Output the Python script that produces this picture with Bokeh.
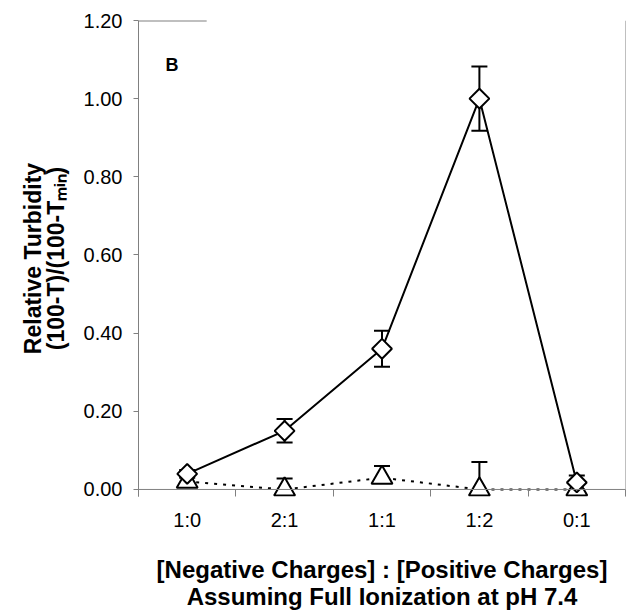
import numpy as np
from bokeh.plotting import figure
from bokeh.models import (ColumnDataSource, Range1d, FixedTicker, NumeralTickFormatter,
                          Whisker, TeeHead, Label, Span)
from bokeh.embed import file_html
from bokeh.resources import INLINE

# ---- data ----
categories = ["1:0", "2:1", "1:1", "1:2", "0:1"]
diamond_values = [0.04, 0.15, 0.36, 1.00, 0.018]
diamond_errors = [0.01, 0.03, 0.046, 0.082, 0.018]
triangle_values = [0.02, 0.00, 0.03, 0.00, 0.00]
triangle_errors = [0.0, 0.028, 0.03, 0.07, 0.0]
y_ticks = [0.0, 0.2, 0.4, 0.6, 0.8, 1.0, 1.2]

FONT = "Liberation Sans"
AXIS_GRAY = "#808080"

n = len(categories)
xs = [i + 0.5 for i in range(n)]

p = figure(width=630, height=614, output_backend="svg", toolbar_location=None,
           x_range=Range1d(0, n), y_range=Range1d(-0.018, 1.2),
           min_border_left=138, min_border_right=5, min_border_top=20,
           min_border_bottom=118, outline_line_color=None,
           background_fill_color="white", border_fill_color="white")
p.grid.visible = False

# x axis (line drawn at y = 0 by a span, ticks reach up to it)
xa = p.xaxis[0]
xa.ticker = FixedTicker(ticks=xs, minor_ticks=list(range(0, n + 1)))
xa.major_label_overrides = {x: c for x, c in zip(xs, categories)}
xa.major_tick_out = 0
xa.major_tick_in = 0
xa.minor_tick_out = 0
xa.minor_tick_in = 7
xa.minor_tick_line_color = AXIS_GRAY
xa.axis_line_color = None
xa.major_label_text_font = FONT
xa.major_label_text_font_size = "20px"
xa.major_label_text_color = "black"
xa.major_label_standoff = 12
xa.axis_label = "[Negative Charges] : [Positive Charges]\nAssuming Full Ionization at pH 7.4"
xa.axis_label_text_font = FONT
xa.axis_label_text_font_size = "24px"
xa.axis_label_text_font_style = "bold"
xa.axis_label_text_color = "black"
xa.axis_label_text_line_height = 1.0
xa.axis_label_standoff = 22
p.add_layout(Span(location=0, dimension="width", line_color=AXIS_GRAY, line_width=1))

# y axis
ya = p.yaxis[0]
ya.ticker = FixedTicker(ticks=y_ticks, minor_ticks=[])
ya.formatter = NumeralTickFormatter(format="0.00")
ya.major_tick_out = 5
ya.major_tick_in = 0
ya.major_tick_line_color = AXIS_GRAY
ya.axis_line_color = AXIS_GRAY
ya.major_label_text_font = FONT
ya.major_label_text_font_size = "20px"
ya.major_label_text_color = "black"
ya.major_label_standoff = 11
ya.axis_label = "Relative Turbidity\n(100-T)/(100-T\u2098\u1d62\u2099)"
ya.axis_label_text_font = FONT
ya.axis_label_text_font_size = "23px"
ya.axis_label_text_font_style = "bold"
ya.axis_label_text_color = "black"
ya.axis_label_text_line_height = 0.85
ya.axis_label_standoff = 12

# frame fragments (right border, partial top)
p.add_layout(Span(location=p.x_range.end, dimension="height", line_color=AXIS_GRAY, line_width=1))
top_y = p.y_range.end
p.segment(x0=[p.x_range.start], y0=[top_y],
          x1=[p.x_range.start + 0.14 * (p.x_range.end - p.x_range.start)],
          y1=[top_y], line_color=AXIS_GRAY, line_width=2)

# error bars
da = [(x, v, e) for x, v, e in zip(xs, diamond_values, diamond_errors) if e > 0]
src_da = ColumnDataSource(dict(x=[a[0] for a in da],
                               upper=[a[1] + a[2] for a in da],
                               lower=[a[1] - a[2] for a in da]))
w1 = Whisker(base="x", upper="upper", lower="lower", source=src_da,
             line_color="black", line_width=2, level="underlay",
             upper_head=TeeHead(size=16, line_width=2, line_color="black"),
             lower_head=TeeHead(size=16, line_width=2, line_color="black"))
p.add_layout(w1)

tb = [(x, v, e) for x, v, e in zip(xs, triangle_values, triangle_errors) if e > 0]
src_tb = ColumnDataSource(dict(x=[a[0] for a in tb],
                               upper=[a[1] + a[2] for a in tb],
                               lower=[a[1] for a in tb]))
w2 = Whisker(base="x", upper="upper", lower="lower", source=src_tb,
             line_color="black", line_width=2, level="underlay",
             upper_head=TeeHead(size=16, line_width=2, line_color="black"),
             lower_head=None)
p.add_layout(w2)

# series
p.line(xs, triangle_values, line_color="black", line_width=2, line_dash="3 6")
p.line(xs, diamond_values, line_color="black", line_width=2)
p.scatter(xs, triangle_values, marker="triangle", size=21, fill_color="white",
          line_color="black", line_width=2)
p.scatter(xs, diamond_values, marker="square", angle=np.pi / 4, size=14,
          fill_color="white", line_color="black", line_width=2)

# panel letter
p.add_layout(Label(x=0.277, y=1.06, text="B", text_font=FONT, text_font_size="18px",
                   text_font_style="bold", text_color="black"))

open("out.html", "w").write(file_html(p, INLINE))
